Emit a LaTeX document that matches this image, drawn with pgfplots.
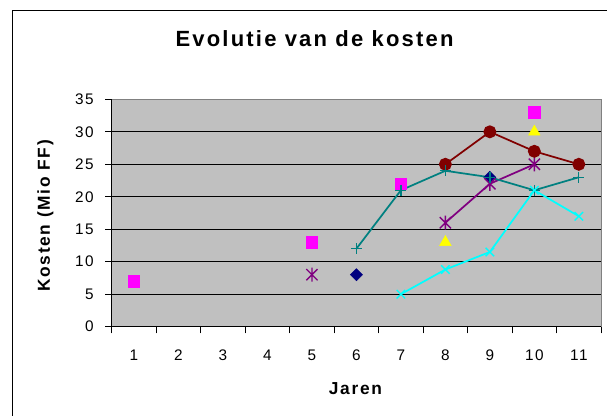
\documentclass[border=0pt]{standalone}
\usepackage{pgfplots}
\pgfplotsset{compat=1.18}
\usepackage{fontspec}
\setmainfont{Liberation Sans}[LetterSpace=10]
\definecolor{plotgray}{HTML}{C0C0C0}
\definecolor{bordergray}{HTML}{808080}
\definecolor{cMagenta}{HTML}{FF00FF}
\definecolor{cNavy}{HTML}{000080}
\definecolor{cYellow}{HTML}{FFFF00}
\definecolor{cPurple}{HTML}{800080}
\definecolor{cMaroon}{HTML}{800000}
\definecolor{cTeal}{HTML}{008080}
\definecolor{cCyan}{HTML}{00FFFF}
\pgfdeclareplotmark{xstar}{%
  \pgfpathmoveto{\pgfpoint{-\pgfplotmarksize}{-\pgfplotmarksize}}%
  \pgfpathlineto{\pgfpoint{\pgfplotmarksize}{\pgfplotmarksize}}%
  \pgfpathmoveto{\pgfpoint{-\pgfplotmarksize}{\pgfplotmarksize}}%
  \pgfpathlineto{\pgfpoint{\pgfplotmarksize}{-\pgfplotmarksize}}%
  \pgfpathmoveto{\pgfpoint{0pt}{-1.25\pgfplotmarksize}}%
  \pgfpathlineto{\pgfpoint{0pt}{1.25\pgfplotmarksize}}%
  \pgfusepathqstroke}
\begin{document}
\begin{tikzpicture}
\useasboundingbox (0,0) rectangle (455.25pt,-312pt);
\draw[line width=0.75pt] (9.3pt,-312pt) -- (9.3pt,-8.25pt) -- (455.25pt,-8.25pt);
\node[anchor=base, font=\bfseries\fontsize{16.5}{20}\selectfont] at (235.9pt,-35pt) {Evolutie van de kosten};
\node[anchor=base, font=\bfseries\fontsize{13}{15}\selectfont] at (266.6pt,-296.25pt) {Jaren};
\node[rotate=90, anchor=center, font=\bfseries\fontsize{13}{15}\selectfont] at (34.1pt,-162pt) {Kosten (Mio FF)};
\begin{axis}[
  at={(83.8pt,-245pt)}, anchor=south west,
  scale only axis, width=367pt, height=170.5pt,
  xmin=0.5, xmax=11.5, ymin=0, ymax=35,
  axis x line*=bottom, axis y line*=left,
  axis line style={black, line width=0.75pt, -},
  axis background/.style={fill=plotgray, draw=bordergray, line width=0.75pt},
  xtick={0.5,1.5,...,11.5},
  xticklabels={1,2,3,4,5,6,7,8,9,10,11,{}},
  xticklabel style={xshift=16.7pt, yshift=-9pt},
  yticklabel style={xshift=-5pt},
  ytick={0,5,...,30},
  extra y ticks={35},
  extra y tick style={grid=none},
  ymajorgrids,
  major grid style={black, line width=0.75pt},
  tick align=outside, major tick length=5pt,
  tick style={black, line width=0.75pt},
  /pgf/number format/assume math mode=true,
  ticklabel style={font=\fontsize{11.5}{13}\selectfont},
  unbounded coords=jump,
  clip=false,
]
\addplot[only marks, mark=square*, mark size=4.2pt, color=cMagenta] coordinates {(1,7) (5,13) (7,22) (10,33)};
\addplot[only marks, mark=square*, mark size=3.2pt, mark options={rotate=45}, color=cNavy] coordinates {(6,8) (9,23)};
\addplot[only marks, mark=triangle*, mark size=5pt, color=cYellow] coordinates {(8,13) (10,30)};
\addplot[color=cPurple, line width=1.3pt, mark=xstar, mark size=4.2pt, mark options={line width=1pt}] coordinates {(5,8) (6,nan) (7,nan) (8,16) (9,22) (10,25)};
\addplot[color=cMaroon, line width=1.3pt, mark=*, mark size=4.2pt] coordinates {(8,25) (9,30) (10,27) (11,25)};
\addplot[color=cTeal, line width=1.3pt, mark=+, mark size=4.2pt, mark options={line width=1pt}] coordinates {(6,12) (7,21) (8,24) (9,23) (10,21) (11,23)};
\addplot[color=cCyan, line width=1.3pt, mark=x, mark size=4.5pt, mark options={line width=1pt}] coordinates {(7,5) (8,8.8) (9,11.5) (10,21) (11,17)};
\end{axis}
\end{tikzpicture}
\end{document}
